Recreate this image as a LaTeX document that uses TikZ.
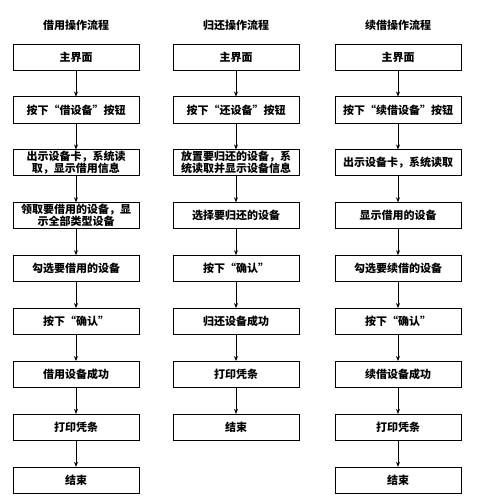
\documentclass[tikz,border=0pt]{standalone}
\usepackage{fontspec}
\setmainfont{Noto Sans CJK SC}
\usetikzlibrary{arrows.meta}

\begin{document}
\begin{tikzpicture}[x=1pt,y=1pt,
        flowbox/.style={draw,line width=0.8pt,minimum width=126pt,minimum height=26pt,inner sep=1pt,align=center,font=\fontsize{11}{12}\selectfont\bfseries},
        flowtitle/.style={font=\fontsize{11}{12}\selectfont\bfseries},
        flowarrow/.style={-{Stealth[length=5pt,width=4pt]},line width=0.8pt}]
        \newcommand{\figflowcola}{76}
        \newcommand{\figflowcolb}{236}
        \newcommand{\figflowcolc}{398}
        \newcommand{\figflowtitley}{25}
        \newcommand{\figflowrowtop}{57}
        \newcommand{\figflowrowstep}{52.9}
        \useasboundingbox (0,0) rectangle (478,-500);
        % borrowing
        \node[flowtitle] (lendtitle) at (\figflowcola,-\figflowtitley) {借用操作流程};
        \node[flowbox] (lend1) at (\figflowcola,-\figflowrowtop) {主界面};
        \node[flowbox] (lend2) at (\figflowcola,-\figflowrowtop-1*\figflowrowstep) {按下“借设备”按钮};
        \node[flowbox] (lend3) at (\figflowcola,-\figflowrowtop-2*\figflowrowstep) {出示设备卡，系统读\\取，显示借用信息};
        \node[flowbox] (lend4) at (\figflowcola,-\figflowrowtop-3*\figflowrowstep) {领取要借用的设备，显\\示全部类型设备};
        \node[flowbox] (lend5) at (\figflowcola,-\figflowrowtop-4*\figflowrowstep) {勾选要借用的设备};
        \node[flowbox] (lend6) at (\figflowcola,-\figflowrowtop-5*\figflowrowstep) {按下“确认”};
        \node[flowbox] (lend7) at (\figflowcola,-\figflowrowtop-6*\figflowrowstep) {借用设备成功};
        \node[flowbox] (lend8) at (\figflowcola,-\figflowrowtop-7*\figflowrowstep) {打印凭条};
        \node[flowbox] (lend9) at (\figflowcola,-\figflowrowtop-8*\figflowrowstep) {结束};
        \draw[flowarrow] (lend1) -- (lend2);
        \draw[flowarrow] (lend2) -- (lend3);
        \draw[flowarrow] (lend3) -- (lend4);
        \draw[flowarrow] (lend4) -- (lend5);
        \draw[flowarrow] (lend5) -- (lend6);
        \draw[flowarrow] (lend6) -- (lend7);
        \draw[flowarrow] (lend7) -- (lend8);
        \draw[flowarrow] (lend8) -- (lend9);
        % returning
        \node[flowtitle] (backtitle) at (\figflowcolb,-\figflowtitley) {归还操作流程};
        \node[flowbox] (back1) at (\figflowcolb,-\figflowrowtop) {主界面};
        \node[flowbox] (back2) at (\figflowcolb,-\figflowrowtop-1*\figflowrowstep) {按下“还设备”按钮};
        \node[flowbox] (back3) at (\figflowcolb,-\figflowrowtop-2*\figflowrowstep) {放置要归还的设备，系\\统读取并显示设备信息};
        \node[flowbox] (back4) at (\figflowcolb,-\figflowrowtop-3*\figflowrowstep) {选择要归还的设备};
        \node[flowbox] (back5) at (\figflowcolb,-\figflowrowtop-4*\figflowrowstep) {按下“确认”};
        \node[flowbox] (back6) at (\figflowcolb,-\figflowrowtop-5*\figflowrowstep) {归还设备成功};
        \node[flowbox] (back7) at (\figflowcolb,-\figflowrowtop-6*\figflowrowstep) {打印凭条};
        \node[flowbox] (back8) at (\figflowcolb,-\figflowrowtop-7*\figflowrowstep) {结束};
        \draw[flowarrow] (back1) -- (back2);
        \draw[flowarrow] (back2) -- (back3);
        \draw[flowarrow] (back3) -- (back4);
        \draw[flowarrow] (back4) -- (back5);
        \draw[flowarrow] (back5) -- (back6);
        \draw[flowarrow] (back6) -- (back7);
        \draw[flowarrow] (back7) -- (back8);
        % renewing
        \node[flowtitle] (renewtitle) at (\figflowcolc,-\figflowtitley) {续借操作流程};
        \node[flowbox] (renew1) at (\figflowcolc,-\figflowrowtop) {主界面};
        \node[flowbox] (renew2) at (\figflowcolc,-\figflowrowtop-1*\figflowrowstep) {按下“续借设备”按钮};
        \node[flowbox] (renew3) at (\figflowcolc,-\figflowrowtop-2*\figflowrowstep) {出示设备卡，系统读取};
        \node[flowbox] (renew4) at (\figflowcolc,-\figflowrowtop-3*\figflowrowstep) {显示借用的设备};
        \node[flowbox] (renew5) at (\figflowcolc,-\figflowrowtop-4*\figflowrowstep) {勾选要续借的设备};
        \node[flowbox] (renew6) at (\figflowcolc,-\figflowrowtop-5*\figflowrowstep) {按下“确认”};
        \node[flowbox] (renew7) at (\figflowcolc,-\figflowrowtop-6*\figflowrowstep) {续借设备成功};
        \node[flowbox] (renew8) at (\figflowcolc,-\figflowrowtop-7*\figflowrowstep) {打印凭条};
        \node[flowbox] (renew9) at (\figflowcolc,-\figflowrowtop-8*\figflowrowstep) {结束};
        \draw[flowarrow] (renew1) -- (renew2);
        \draw[flowarrow] (renew2) -- (renew3);
        \draw[flowarrow] (renew3) -- (renew4);
        \draw[flowarrow] (renew4) -- (renew5);
        \draw[flowarrow] (renew5) -- (renew6);
        \draw[flowarrow] (renew6) -- (renew7);
        \draw[flowarrow] (renew7) -- (renew8);
        \draw[flowarrow] (renew8) -- (renew9);
    \end{tikzpicture}
\end{document}
